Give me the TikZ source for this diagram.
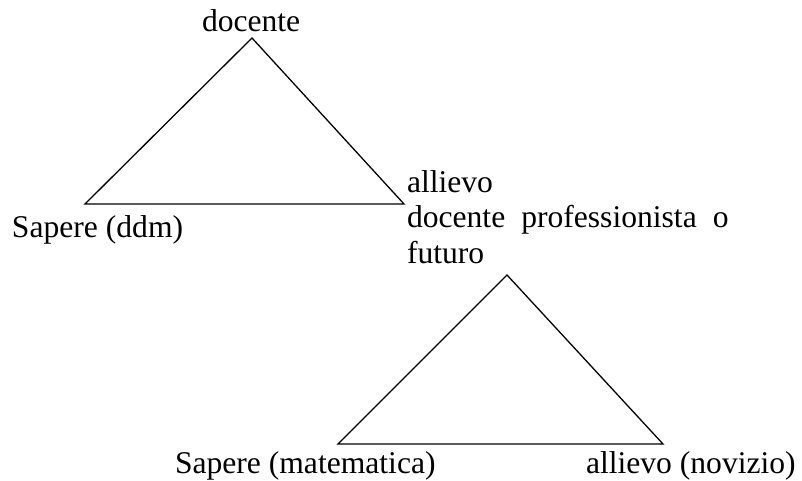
\documentclass[tikz,border=0pt]{standalone}
\usepackage{fontspec}
\setmainfont{Liberation Serif}
\tikzset{
  lbl/.style={anchor=base west, inner sep=0pt, outer sep=0pt, font=\fontsize{31.6}{35.5}\selectfont},
  tri/.style={draw=black, line width=1.3pt, line join=miter}
}
\begin{document}
\begin{tikzpicture}[x=1pt,y=-1pt]
\useasboundingbox (0,0) rectangle (802,481);
% triangle 1
\coordinate (t1a) at (252,38);
\coordinate (t1l) at (85,204);
\coordinate (t1r) at (404,204);
\draw[tri] (t1a) -- (t1l) -- (t1r) -- cycle;
% triangle 2
\coordinate (t2a) at (507,275);
\coordinate (t2l) at (338,444);
\coordinate (t2r) at (663,444);
\draw[tri] (t2a) -- (t2l) -- (t2r) -- cycle;
% labels
\node[lbl] (doc) at (202,32) {docente};
\node[lbl] (sddm) at (12,237) {Sapere (ddm)};
\node[lbl] (all) at (407,192) {allievo};
\node[lbl] (dpo) at (407,227) {docente\hskip 16pt professionista\hskip 16pt o};
\node[lbl] (fut) at (407,263) {futuro};
\node[lbl] (smat) at (175,473) {Sapere (matematica)};
\node[lbl] (anov) at (586,473) {allievo (novizio)};
\end{tikzpicture}
\end{document}
